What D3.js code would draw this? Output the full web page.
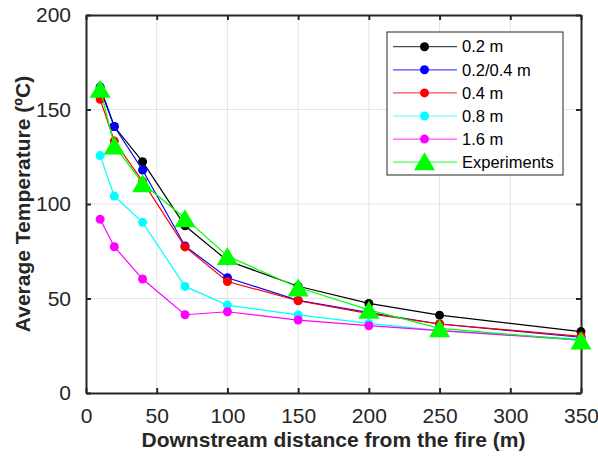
<!DOCTYPE html>
<html>
<head>
<meta charset="utf-8">
<script src="https://cdn.jsdelivr.net/npm/d3@7"></script>
<style>
  body { margin: 0; background: #fff; }
  text { font-family: "Liberation Sans", Arial, sans-serif; }
</style>
</head>
<body>
<div id="wrapper"></div>
<script>
// distances downstream of the fire (m)
const distances = [10, 20, 40, 70, 100, 150, 200, 250, 350];

// average temperature (ºC) per grid size
const t02   = [161, 141, 122.4, 88.5, 70, 56.5, 47.4, 41.2, 32.5];
const t0204 = [162, 141, 118, 77.8, 61, 49, 42.5, 36.5, 29.5];
const t04   = [155.4, 133.3, 112, 77.3, 59, 48.8, 42, 36.5, 30];
const t08   = [125.6, 104.2, 90.3, 56.4, 46.5, 41.3, 36.8, 33, 28.5];
const t16   = [91.9, 77.4, 60.3, 41.4, 43, 38.6, 35.6, 33, 28];
const experiments = [161, 131, 111, 92.5, 72.5, 55.8, 44, 34.2, 27.8];

const seriesNames = ["0.2 m", "0.2/0.4 m", "0.4 m", "0.8 m", "1.6 m", "Experiments"];
const xTicks = [0, 50, 100, 150, 200, 250, 300, 350];
const yTicks = [0, 50, 100, 150, 200];

const series = [
    {name: seriesNames[0], values: t02, color: "#000000", marker: "circle"},
    {name: seriesNames[1], values: t0204, color: "#0000ff", marker: "circle"},
    {name: seriesNames[2], values: t04, color: "#ff0000", marker: "circle"},
    {name: seriesNames[3], values: t08, color: "#00ffff", marker: "circle"},
    {name: seriesNames[4], values: t16, color: "#ff00ff", marker: "circle"},
    {name: seriesNames[5], values: experiments, color: "#00ff00", marker: "triangle"}
];

var dimension = {
    width: 598,
    height: 458,
    margin: {top: 15, right: 17, bottom: 65, left: 86}
};
dimension.boundedWidth = dimension.width - dimension.margin.left - dimension.margin.right;
dimension.boundedHeight = dimension.height - dimension.margin.top - dimension.margin.bottom;

const axisColor = "#262626";

const x = d3.scaleLinear().domain([0, 350]).range([0, dimension.boundedWidth]);
const y = d3.scaleLinear().domain([0, 200]).range([dimension.boundedHeight, 0]);

const svg = d3.select("#wrapper")
    .append("svg")
    .attr("width", dimension.width)
    .attr("height", dimension.height);

const bounds = svg.append("g")
    .attr("transform", `translate(${dimension.margin.left},${dimension.margin.top})`);

// grid
bounds.append("g")
    .selectAll("line")
    .data(xTicks.slice(1, -1))
    .enter().append("line")
    .attr("x1", d => x(d)).attr("x2", d => x(d))
    .attr("y1", 0).attr("y2", dimension.boundedHeight)
    .attr("stroke", "#e3e3e3").attr("stroke-width", 1);
bounds.append("g")
    .selectAll("line")
    .data(yTicks.slice(1, -1))
    .enter().append("line")
    .attr("y1", d => y(d)).attr("y2", d => y(d))
    .attr("x1", 0).attr("x2", dimension.boundedWidth)
    .attr("stroke", "#e3e3e3").attr("stroke-width", 1);

// axes (ticks inside, box on)
const tickLen = 5;
const xAxisB = d3.axisBottom(x).tickValues(xTicks).tickSizeInner(-tickLen).tickSizeOuter(0).tickPadding(15);
const xAxisT = d3.axisTop(x).tickValues(xTicks).tickSizeInner(-tickLen).tickSizeOuter(0).tickFormat("");
const yAxisL = d3.axisLeft(y).tickValues(yTicks).tickSizeInner(-tickLen).tickSizeOuter(0).tickPadding(15);
const yAxisR = d3.axisRight(y).tickValues(yTicks).tickSizeInner(-tickLen).tickSizeOuter(0).tickFormat("");

function styleAxis(g) {
    g.select(".domain").attr("stroke", axisColor).attr("stroke-width", 2);
    g.selectAll(".tick line").attr("stroke", axisColor).attr("stroke-width", 2);
    g.selectAll(".tick text")
        .attr("fill", axisColor)
        .style("font-size", "21px")
        .style("font-family", "'Liberation Sans', Arial, sans-serif");
}

bounds.append("g").attr("transform", `translate(0,${dimension.boundedHeight})`).call(xAxisB).call(styleAxis);
bounds.append("g").call(xAxisT).call(styleAxis);
bounds.append("g").call(yAxisL).call(styleAxis);
bounds.append("g").attr("transform", `translate(${dimension.boundedWidth},0)`).call(yAxisR).call(styleAxis);

// lines and markers
const line = d3.line()
    .x((d, i) => x(distances[i]))
    .y(d => y(d));

const triW = 21, triH = 18;
function triPath(cx, cy) {
    return `M${cx},${cy - triH / 2}L${cx + triW / 2},${cy + triH / 2}L${cx - triW / 2},${cy + triH / 2}Z`;
}

series.forEach(s => {
    const g = bounds.append("g");
    g.append("path")
        .datum(s.values)
        .attr("d", line)
        .attr("fill", "none")
        .attr("stroke", s.color)
        .attr("stroke-width", 1.2);
    if (s.marker === "circle") {
        g.selectAll("circle")
            .data(s.values)
            .enter().append("circle")
            .attr("cx", (d, i) => x(distances[i]))
            .attr("cy", d => y(d))
            .attr("r", 4.5)
            .attr("fill", s.color);
    } else {
        g.selectAll(".tri")
            .data(s.values)
            .enter().append("path")
            .attr("class", "tri")
            .attr("d", (d, i) => triPath(x(distances[i]), y(d)))
            .attr("fill", s.color);
    }
});

// legend
const legend = svg.append("g").attr("transform", "translate(387,32)");
legend.append("rect")
    .attr("width", 176).attr("height", 143)
    .attr("fill", "#fff")
    .attr("stroke", axisColor).attr("stroke-width", 1);

const rowH = 23.1;
const items = legend.selectAll(".item")
    .data(series)
    .enter().append("g")
    .attr("class", "item")
    .attr("transform", (d, i) => `translate(0,${14.7 + i * rowH})`);

items.append("line")
    .attr("x1", 6).attr("x2", 70)
    .attr("stroke", d => d.color)
    .attr("stroke-opacity", 0.7)
    .attr("stroke-width", 1.2);
items.filter(d => d.marker === "circle").append("circle")
    .attr("cx", 37.5).attr("r", 4.5)
    .attr("fill", d => d.color);
items.filter(d => d.marker === "triangle").append("path")
    .attr("d", triPath(37.5, -1))
    .attr("fill", d => d.color);
items.append("text")
    .attr("x", 75)
    .attr("dy", "0.35em")
    .style("font-size", "16.5px")
    .attr("fill", "#000")
    .text(d => d.name);

// axis titles
svg.append("text")
    .attr("x", dimension.margin.left + dimension.boundedWidth / 2)
    .attr("y", 447)
    .attr("text-anchor", "middle")
    .style("font-size", "21px")
    .style("font-weight", "bold")
    .attr("fill", axisColor)
    .text("Downstream distance from the fire (m)");

svg.append("text")
    .attr("transform", `translate(30,${dimension.margin.top + dimension.boundedHeight / 2}) rotate(-90)`)
    .attr("text-anchor", "middle")
    .style("font-size", "21px")
    .style("font-weight", "bold")
    .attr("fill", axisColor)
    .text("Average Temperature (ºC)");
</script>
</body>
</html>
